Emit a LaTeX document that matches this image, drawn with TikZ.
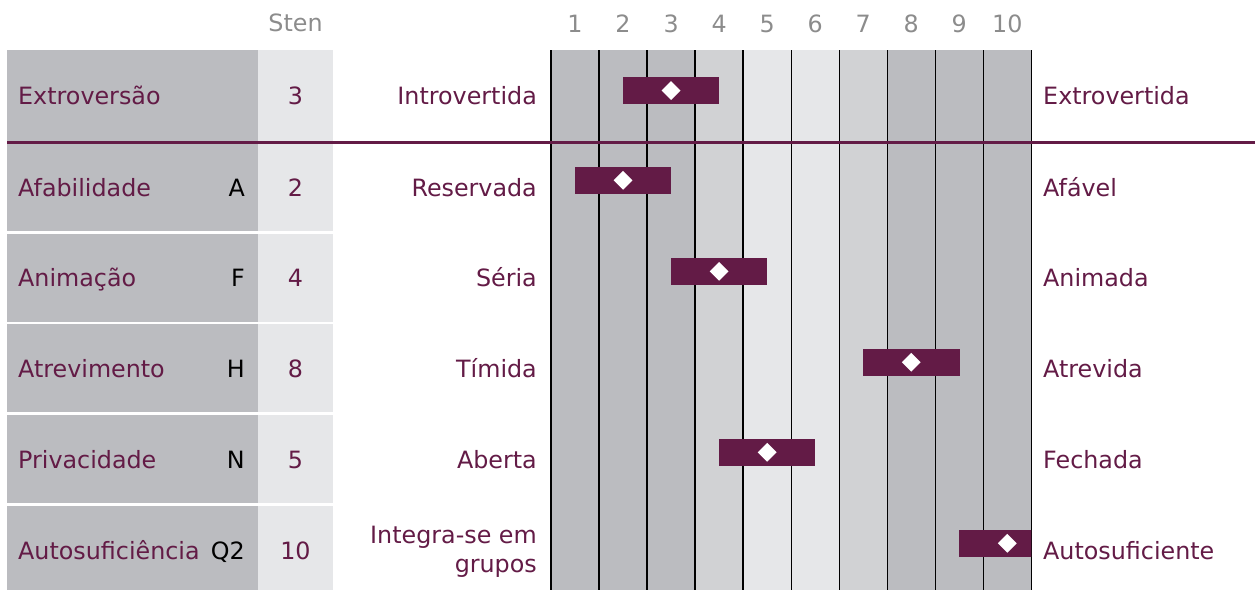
\documentclass[tikz,border=0pt]{standalone}
\usepackage{fontspec}
\setmainfont{DejaVu Sans}
\usetikzlibrary{shapes.geometric}
\definecolor{plum}{HTML}{631B46}
\definecolor{gdark}{HTML}{BBBCC0}
\definecolor{gmid}{HTML}{D1D2D4}
\definecolor{glight}{HTML}{E6E7E9}
\definecolor{hdr}{HTML}{8C8C8C}
\begin{document}
\begin{tikzpicture}[x=1pt,y=-1pt,
  font=\fontsize{23.8}{28.5}\selectfont,
  txt/.style={inner sep=0pt,text=plum},
  hdrtxt/.style={inner sep=0pt,text=hdr,anchor=base},
  codetxt/.style={inner sep=0pt,text=black,anchor=base east},
  bar/.style={rectangle,fill=plum,inner sep=0pt,minimum width=96.6pt,minimum height=26.7pt},
  dot/.style={diamond,fill=white,inner sep=0pt,minimum width=19pt,minimum height=19pt},
  gridline/.style={line width=1.3pt,black}]
\useasboundingbox (0,0) rectangle (1255,590);
% chart columns
\foreach \n/\col in {1/gdark,2/gdark,3/gdark,4/gmid,5/glight,6/glight,7/gmid,8/gdark,9/gdark,10/gdark}
  \fill[\col] ({551+48.03*(\n-1)},50) rectangle ++(48.03,540);
\foreach \n in {0,...,10}
  \draw[gridline] ({551+48.03*\n},50) -- ({551+48.03*\n},590);
% header
\node[hdrtxt] (sten) at (295.5,31) {Sten};
\foreach \n in {1,...,10}
  \node[hdrtxt] (h\n) at ({551+48.03*(\n-0.5)},32.3) {\n};
% table rows
\foreach \t/\b/\c/\lb/\nm/\k/\s/\lp/\rp [count=\i] in {
  50/140.5/95/104/Extroversão//3/Introvertida/Extrovertida,
  143.5/231/187.5/196.5/Afabilidade/A/2/Reservada/Afável,
  233.5/321.5/277.5/286.5/Animação/F/4/Séria/Animada,
  324/412/368/377/Atrevimento/H/8/Tímida/Atrevida,
  414.5/503/459/468/Privacidade/N/5/Aberta/Fechada,
  505.5/590/550/572/Autosuficiência/Q2/10/{Integra-se em\\grupos}/Autosuficiente}{
  \fill[gdark] (7,\t) rectangle (258,\b);
  \fill[glight] (258,\t) rectangle (333,\b);
  \node[txt,anchor=base west] (name\i) at (18,\c+9) {\nm};
  \node[codetxt] (code\i) at (245,\c+9) {\k};
  \node[txt,anchor=base] (sten\i) at (295.5,\c+9) {\s};
  \node[txt,anchor=base east,align=right] (left\i) at (537,\lb) {\lp};
  \node[txt,anchor=base west] (right\i) at (1043,\c+9) {\rp};
}
% purple separator
\draw[plum,line width=3pt] (7,142) -- (1255,142);
% bars
\begin{scope}
\clip (551,50) rectangle (1031.3,590);
\foreach \s/\y [count=\i] in {3/90.5,2/180.3,4/271.3,8/362.3,5/452.3,10/543.3}{
  \node[bar] (bar\i) at ({551+48.03*(\s-0.5)},\y) {};
  \node[dot] (dot\i) at (bar\i.center) {};
}
\end{scope}
\end{tikzpicture}
\end{document}
